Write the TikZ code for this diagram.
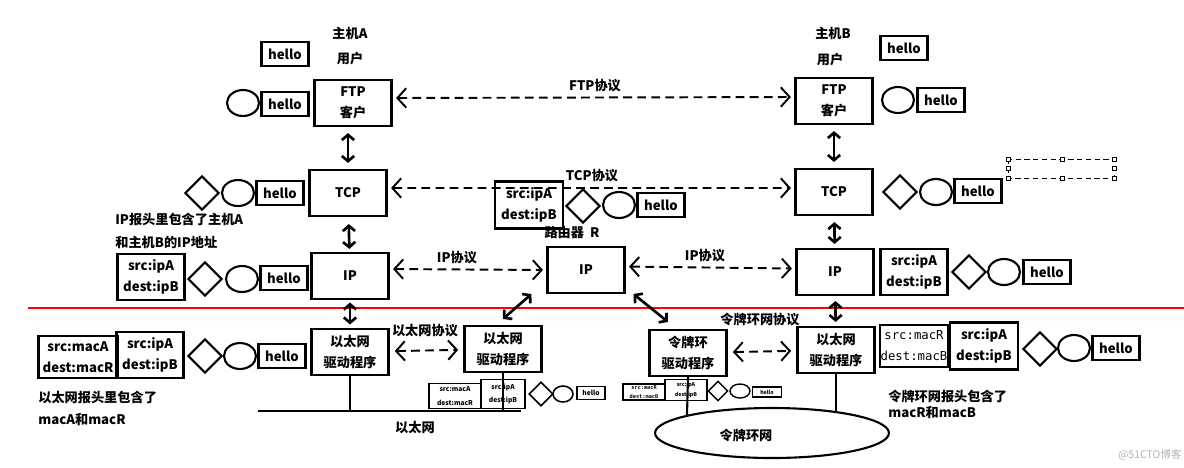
\documentclass[tikz,border=0pt]{standalone}
\usepackage{fontspec}
\setmainfont{Noto Sans CJK SC}
\newfontfamily\monofont{DejaVu Sans Mono}
\usetikzlibrary{arrows.meta,shapes.geometric}
\tikzset{
	every node/.style={font=\fontsize{7.5}{12}\selectfont\bfseries, inner sep=0pt},
	layer/.style={draw, line width=1.2pt, minimum width=1.54cm, minimum height=0.92cm, align=center},
	hello/.style={draw, line width=1.2pt, minimum width=0.94cm, minimum height=0.48cm},
	hdr/.style={draw, line width=1.2pt, minimum width=1.34cm, minimum height=0.92cm, align=center},
	dia/.style={draw, diamond, line width=1.2pt, minimum width=0.68cm, minimum height=0.68cm},
	egg/.style={draw, ellipse, line width=1.2pt, minimum width=0.64cm, minimum height=0.52cm},
	tiny/.style={font=\fontsize{3.8}{7.5}\selectfont\bfseries, line width=0.9pt},
	tinier/.style={font=\fontsize{3}{5.5}\selectfont\bfseries, line width=0.8pt},
	proto/.style={line width=1.1pt, dash pattern=on 5pt off 3pt, {Straight Barb[length=5pt,width=11pt]}-{Straight Barb[length=5pt,width=11pt]}, shorten <=2pt, shorten >=2pt},
	updown/.style={line width=1.5pt, {Straight Barb[length=3pt,width=7pt]}-{Straight Barb[length=3pt,width=7pt]}, shorten <=0.12cm, shorten >=0.12cm},
	wire/.style={line width=1.2pt}
}
\begin{document}
\begin{tikzpicture}[x=0.02cm, y=-0.02cm]
	\useasboundingbox (0,0) rectangle (1184,467);
	\draw[red, line width=1.4pt] (28,308) -- (1184,308);
		\node (hostA) at (350,33) {主机A};
		\node (userA) at (350,59) {用户};
		\node [hello] (helloA) at (285,54) {hello};
		\node [layer] (ftpA) at (353,103) {FTP\\客户};
		\node [egg] (ftpAe) at (243,103) {};
		\node [hello] (ftpAh) at (285,104) {hello};
		\node [layer] (tcpA) at (348,193) {TCP};
		\node [dia] (tcpAd) at (202,193) {};
		\node [egg] (tcpAe) at (238,193) {};
		\node [hello] (tcpAh) at (280,193) {hello};
		\node [anchor=west] (noteA1) at (115,219) {IP报头里包含了主机A};
		\node [anchor=west] (noteA2) at (115,242) {和主机B的IP地址};
		\node [layer] (ipA) at (350,276) {IP};
		\node [hdr] (ipAhd) at (151,277) {src:ipA\\dest:ipB};
		\node [dia] (ipAd) at (205,279) {};
		\node [egg] (ipAe) at (242,279) {};
		\node [hello] (ipAh) at (284,278) {hello};
		\node [layer] (ethA) at (350,352) {以太网\\驱动程序};
		\node [hdr, minimum width=1.58cm, minimum height=0.84cm] (ethAmac) at (78,357) {src:macA\\dest:macR};
		\node [hdr] (ethAhd) at (150,355) {src:ipA\\dest:ipB};
		\node [dia] (ethAd) at (205,356) {};
		\node [egg] (ethAe) at (240,356) {};
		\node [hello] (ethAh) at (282,356) {hello};
		\node [anchor=west] (noteA3) at (38,397) {以太网报头里包含了};
		\node [anchor=west] (noteA4) at (38,420) {macA和macR};
		\node (rtr) at (572,232) {路由器\ \ R};
		\node [layer] (ipR) at (586,270) {IP};
		\node [hdr, minimum width=1.36cm, minimum height=0.94cm] (ipRhd) at (529,205) {src:ipA\\dest:ipB};
		\node [dia] (ipRd) at (583,206) {};
		\node [egg] (ipRe) at (619,205) {};
		\node [hello] (ipRh) at (661,205) {hello};
		\node [layer] (ethR) at (503,349) {以太网\\驱动程序};
		\node [tiny, draw, align=center, minimum width=1.04cm, minimum height=0.5cm] (ethRmac) at (455,396) {src:macA\\dest:macR};
		\node [tiny, draw, align=center, minimum width=0.88cm, minimum height=0.58cm] (ethRhd) at (503,394) {src:ipA\\dest:ipB};
		\node [tiny, draw, diamond, minimum width=0.48cm, minimum height=0.48cm] (ethRd) at (541,394) {};
		\node [tiny, draw, ellipse, minimum width=0.4cm, minimum height=0.32cm] (ethRe) at (563,394) {};
		\node [tiny, draw, minimum width=0.56cm, minimum height=0.26cm] (ethRh) at (591,393) {hello};
		\node [layer] (tokR) at (688,353) {令牌环\\驱动程序};
		\node [tinier, draw, align=center, minimum width=0.84cm, minimum height=0.32cm] (tokRmac) at (644,392) {\monofont src:macR\\\monofont dest:macB};
		\node [tinier, draw, align=center, minimum width=0.84cm, minimum height=0.42cm] (tokRhd) at (686,390) {src:ipA\\dest:ipB};
		\node [tinier, draw, diamond, minimum width=0.4cm, minimum height=0.4cm] (tokRd) at (718,391) {};
		\node [tinier, draw, ellipse, minimum width=0.4cm, minimum height=0.28cm] (tokRe) at (740,391) {};
		\node [tinier, draw, minimum width=0.58cm, minimum height=0.2cm] (tokRh) at (767,392) {hello};
		\node (hostB) at (833,33) {主机B};
		\node (userB) at (830,60) {用户};
		\node [hello] (helloB) at (904,48) {hello};
		\node [layer] (ftpB) at (834,101) {FTP\\客户};
		\node [egg] (ftpBe) at (898,100) {};
		\node [hello] (ftpBh) at (941,100) {hello};
		\node [layer] (tcpB) at (834,192) {TCP};
		\node [dia] (tcpBd) at (900,192) {};
		\node [egg] (tcpBe) at (936,192) {};
		\node [hello] (tcpBh) at (978,191) {hello};
		\node [layer] (ipB) at (835,272) {IP};
		\node [hdr] (ipBhd) at (914,272) {src:ipA\\dest:ipB};
		\node [dia] (ipBd) at (969,272) {};
		\node [egg] (ipBe) at (1004,272) {};
		\node [hello] (ipBh) at (1047,272) {hello};
		\node [layer] (ethB) at (836,350) {以太网\\驱动程序};
		\node [hdr, minimum width=1.36cm, minimum height=0.84cm, font=\fontsize{7}{12}\selectfont\monofont] (ethBmac) at (914,346) {src:macR\\dest:macB};
		\node [hdr, minimum width=1.36cm, minimum height=0.94cm] (ethBhd) at (984,346) {src:ipA\\dest:ipB};
		\node [dia] (ethBd) at (1040,349) {};
		\node [egg] (ethBe) at (1074,348) {};
		\node [hello] (ethBh) at (1116,348) {hello};
		\node [anchor=west] (noteB1) at (888,396) {令牌环网报头包含了};
		\node [anchor=west] (noteB2) at (888,413) {macR和macB};
		\node [draw, ellipse, line width=1.2pt, minimum width=4.68cm, minimum height=1cm] (ring) at (772,433) {};
		\node (ringlbl) at (746,435) {令牌环网};
		\node (ftpP) at (595,86) {FTP协议};
		\node (tcpP) at (592,176) {TCP协议};
		\node (ipPl) at (457,258) {IP协议};
		\node (ipPr) at (705,256) {IP协议};
		\node (ethP) at (425,331) {以太网协议};
		\node (tokP) at (760,320) {令牌环网协议};
		\node (ethNet) at (415,428) {以太网};
		\node [font=\fontsize{6}{6}\selectfont, text=gray!60] (mark) at (1150,455) {@51CTO博客};
		\coordinate (busL) at (258,411);
		\coordinate (busR) at (521,411);
		\draw[proto] ([yshift=0.1cm]ftpA.east) -- ([yshift=0.08cm]ftpB.west);
		\draw[proto] ([yshift=0.1cm]tcpA.east) -- ([yshift=0.08cm]tcpB.west);
		\draw[proto] (ipA.10) -- (ipR.west);
		\draw[proto] (ipR.5) -- (ipB.175);
		\draw[proto, shorten <=3pt, shorten >=3pt] (ethA) -- (ethR);
		\draw[proto, shorten <=3pt, shorten >=3pt] (tokR) -- (ethB);
		\draw[updown] (tcpA.north |- ftpA.south) -- (tcpA.north);
		\draw[updown, shorten <=0.14cm, shorten >=0.06cm] (tcpA) -- (ipA);
		\draw[updown, shorten <=0.05cm, shorten >=0.07cm] (ipA) -- (ethA);
		\draw[updown] (ftpB) -- (tcpB);
		\draw[updown, shorten <=0.12cm, shorten >=0.08cm] (tcpB) -- (ipB);
		\draw[updown, shorten <=0.1cm, shorten >=0.08cm] (ipB) -- (ethB);
		\draw[updown, shorten <=0pt, shorten >=0pt] ([xshift=-0.3cm]ipR.south west) -- ([yshift=0.12cm]ethR.north);
		\draw[updown, shorten <=0pt, shorten >=0pt] ([xshift=0.16cm]ipR.south east) -- ([xshift=-0.4cm,yshift=0.14cm]tokR.north);
		\draw[wire] (busL) -- (busR);
		\draw[wire] (ethA.south) -- (ethA.south |- busL);
		\draw[wire] (ethR.south) -- (ethR.south |- busL);
		\draw[wire] (tokR.south) -- (ring.168);
		\draw[wire] (ethB.south) -- (ethB.south |- ring.17);
		\draw[densely dashed, very thin] (1008,159) rectangle (1114,178);
		\foreach \x/\y in {1008/159,1062/159,1114/159,1008/168,1114/168,1008/178,1062/178,1114/178}
			\draw[very thin, fill=white] (\x-2,\y-2) rectangle (\x+2,\y+2);
	\end{tikzpicture}
\end{document}
